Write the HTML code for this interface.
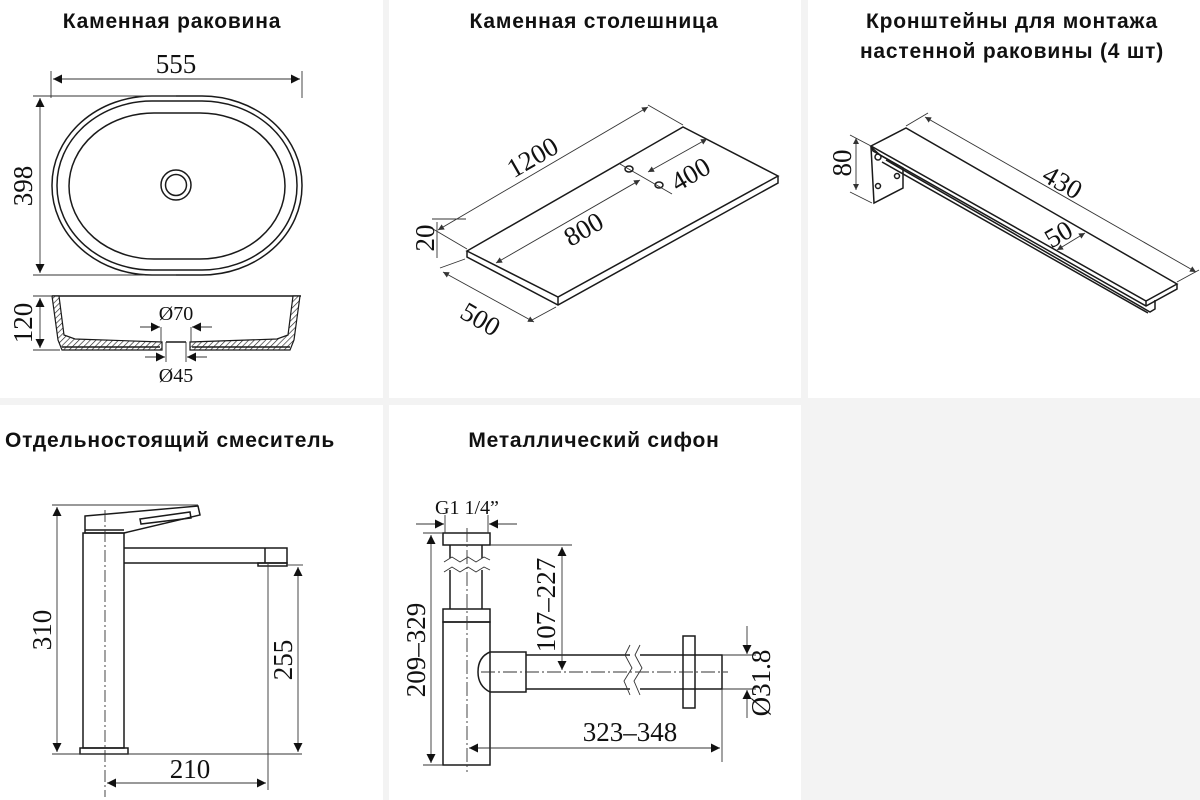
<!DOCTYPE html>
<html><head><meta charset="utf-8"><style>
html,body{margin:0;padding:0;background:#f3f3f3;}
svg{display:block}
.t{font-family:"Liberation Sans","DejaVu Sans",sans-serif;font-weight:bold;font-size:21px;letter-spacing:0.8px;fill:#111}
.d{font-family:"Liberation Serif","DejaVu Serif",serif;font-size:27px;fill:#111}
.ds{font-family:"Liberation Serif","DejaVu Serif",serif;font-size:20px;fill:#111}
.o{fill:none;stroke:#1a1a1a;stroke-width:1.5}
.dl{fill:none;stroke:#333;stroke-width:0.9}
</style></head><body>
<svg width="1200" height="800" viewBox="0 0 1200 800" xmlns="http://www.w3.org/2000/svg">
<defs>
<marker id="a" viewBox="0 0 10 10" refX="10" refY="5" markerWidth="13" markerHeight="9" orient="auto-start-reverse" markerUnits="userSpaceOnUse"><path d="M0,0L10,5L0,10z" fill="#111"/></marker>
<marker id="s" viewBox="0 0 10 10" refX="10" refY="5" markerWidth="8" markerHeight="6" orient="auto-start-reverse" markerUnits="userSpaceOnUse"><path d="M0,0L10,5L0,10z" fill="#333"/></marker>
<pattern id="h" width="4" height="4" patternUnits="userSpaceOnUse" patternTransform="rotate(45)"><rect width="4" height="4" fill="#fff"/><line x1="0" y1="0" x2="0" y2="4" stroke="#222" stroke-width="1.3"/></pattern>
</defs>
<rect x="0" y="0" width="383" height="398" fill="#fff"/>
<rect x="389" y="0" width="412" height="398" fill="#fff"/>
<rect x="808" y="0" width="392" height="398" fill="#fff"/>
<rect x="0" y="405" width="383" height="395" fill="#fff"/>
<rect x="389" y="405" width="412" height="395" fill="#fff"/>

<text class="t" x="172" y="28" text-anchor="middle">Каменная раковина</text>
<text class="t" x="594" y="28" text-anchor="middle">Каменная столешница</text>
<text class="t" x="1012" y="28" text-anchor="middle">Кронштейны для монтажа</text>
<text class="t" x="1012" y="58" text-anchor="middle">настенной раковины (4 шт)</text>
<text class="t" x="170" y="447" text-anchor="middle">Отдельностоящий смеситель</text>
<text class="t" x="594" y="447" text-anchor="middle">Металлический сифон</text>

<!-- basin top -->
<rect class="o" x="52" y="96" width="250" height="179" rx="100" ry="89"/>
<rect class="o" x="57" y="101" width="240" height="169" rx="95" ry="84"/>
<rect class="o" x="69" y="113" width="216" height="146" rx="85" ry="73"/>
<circle class="o" cx="176" cy="185" r="15"/>
<circle class="o" cx="176" cy="185" r="10.5"/>
<line class="dl" x1="51" y1="71" x2="51" y2="98"/><line class="dl" x1="302" y1="71" x2="302" y2="98"/>
<line class="dl" x1="53" y1="79" x2="300" y2="79" marker-start="url(#a)" marker-end="url(#a)"/>
<text class="d" x="176" y="73" text-anchor="middle">555</text>
<line class="dl" x1="33" y1="96" x2="176" y2="96"/><line class="dl" x1="33" y1="275" x2="176" y2="275"/>
<line class="dl" x1="40" y1="98" x2="40" y2="273" marker-start="url(#a)" marker-end="url(#a)"/>
<text class="d" transform="translate(32,186) rotate(-90)" text-anchor="middle">398</text>

<!-- basin side -->
<line class="o" x1="52" y1="296" x2="301" y2="296"/>
<polygon points="52,296 59,296 64,335 75,339 162,342 162,350 62,350 58,340" fill="url(#h)" stroke="#1a1a1a" stroke-width="1.2"/>
<polygon points="300,296 293,296 288,335 277,339 190,342 190,350 290,350 294,340" fill="url(#h)" stroke="#1a1a1a" stroke-width="1.2"/>
<line class="o" x1="166" y1="342" x2="186" y2="342"/>
<line class="o" x1="62" y1="347" x2="160" y2="347"/><line class="o" x1="192" y1="347" x2="290" y2="347"/>
<line class="dl" x1="33" y1="296" x2="52" y2="296"/><line class="dl" x1="33" y1="350" x2="60" y2="350"/>
<line class="dl" x1="40" y1="298" x2="40" y2="348" marker-start="url(#a)" marker-end="url(#a)"/>
<text class="d" transform="translate(32,323) rotate(-90)" text-anchor="middle">120</text>
<line class="dl" x1="161" y1="327" x2="161" y2="342"/><line class="dl" x1="191" y1="327" x2="191" y2="342"/>
<line class="dl" x1="140" y1="327" x2="160" y2="327" marker-end="url(#a)"/><line class="dl" x1="212" y1="327" x2="192" y2="327" marker-end="url(#a)"/>
<text class="ds" x="176" y="320" text-anchor="middle">Ø70</text>
<line class="dl" x1="166" y1="342" x2="166" y2="362"/><line class="dl" x1="186" y1="342" x2="186" y2="362"/>
<line class="dl" x1="145" y1="357" x2="165" y2="357" marker-end="url(#a)"/><line class="dl" x1="207" y1="357" x2="187" y2="357" marker-end="url(#a)"/>
<text class="ds" x="176" y="382" text-anchor="middle">Ø45</text>

<!-- countertop -->
<polygon class="o" points="467,251 683,127 778,176 558,297"/>
<polyline class="o" points="467,251 467,257 558,305 778,183 778,176"/>
<line class="o" x1="558" y1="297" x2="558" y2="305"/>
<ellipse class="o" cx="629" cy="169" rx="4" ry="3"/>
<ellipse class="o" cx="659" cy="185" rx="4" ry="3"/>
<line class="dl" x1="467" y1="249" x2="433" y2="229"/><line class="dl" x1="683" y1="125" x2="648" y2="105"/>
<line class="dl" x1="438" y1="230" x2="648" y2="107" marker-start="url(#s)" marker-end="url(#s)"/>
<text class="d" transform="translate(537,165) rotate(-30)" text-anchor="middle">1200</text>
<line class="dl" x1="496" y1="263" x2="640" y2="180" marker-start="url(#s)" marker-end="url(#s)"/>
<text class="d" transform="translate(588,237) rotate(-30)" text-anchor="middle">800</text>
<line class="dl" x1="620" y1="164" x2="672" y2="194"/>
<line class="dl" x1="648" y1="172" x2="707" y2="139" marker-start="url(#s)" marker-end="url(#s)"/>
<text class="d" transform="translate(695,182) rotate(-30)" text-anchor="middle">400</text>
<line class="dl" x1="432" y1="219" x2="466" y2="219"/>
<line class="dl" x1="437" y1="222" x2="437" y2="258"/>
<text class="d" transform="translate(434,238) rotate(-90)" text-anchor="middle">20</text>
<line class="dl" x1="465" y1="259" x2="440" y2="268"/><line class="dl" x1="556" y1="307" x2="532" y2="320"/>
<line class="dl" x1="443" y1="272" x2="534" y2="322" marker-start="url(#s)" marker-end="url(#s)"/>
<text class="d" transform="translate(476,327) rotate(30)" text-anchor="middle">500</text>

<!-- bracket -->
<polygon class="o" points="871,147 874,203 903,188 903,168 880,155"/>
<circle class="o" cx="878" cy="157" r="3"/><circle class="o" cx="878" cy="186" r="2.5"/><circle class="o" cx="897" cy="176" r="2.5"/>
<polygon class="o" points="871,146 906,128 1177,284 1146,301"/>
<polyline class="o" points="871,146 873,151 1146,306 1177,289 1177,284"/>
<line class="o" x1="1146" y1="301" x2="1146" y2="306"/>
<polyline class="o" points="886,160 1150,312 1155,309 1155,300"/>
<line class="o" x1="882" y1="162" x2="1148" y2="313"/>
<line class="dl" x1="906" y1="126" x2="928" y2="113"/><line class="dl" x1="1177" y1="282" x2="1199" y2="270"/>
<line class="dl" x1="925" y1="117" x2="1196" y2="272" marker-start="url(#s)" marker-end="url(#s)"/>
<text class="d" transform="translate(1058,190) rotate(30)" text-anchor="middle">430</text>
<line class="dl" x1="1057" y1="250" x2="1085" y2="233" marker-start="url(#s)" marker-end="url(#s)"/>
<text class="d" transform="translate(1063,242) rotate(-30)" text-anchor="middle">50</text>
<line class="dl" x1="850" y1="135" x2="871" y2="146"/><line class="dl" x1="850" y1="192" x2="872" y2="203"/>
<line class="dl" x1="856" y1="138" x2="856" y2="190" marker-start="url(#s)" marker-end="url(#s)"/>
<text class="d" transform="translate(851,163) rotate(-90)" text-anchor="middle">80</text>

<!-- faucet -->
<rect class="o" x="83" y="533" width="41" height="215"/>
<rect class="o" x="80" y="748" width="48" height="6"/>
<polygon class="o" points="85,516 198,506 200,515 124,533 85,533"/>
<polygon class="o" points="140,519 190,512 191,518 141,524" stroke-width="1.1"/>
<line class="o" x1="85" y1="530" x2="124" y2="530"/>
<polyline class="o" points="124,548 287,548 287,563 124,563"/>
<line class="o" x1="265" y1="548" x2="265" y2="563"/>
<rect class="o" x="258" y="563" width="29" height="3"/>
<line class="dl" x1="105" y1="510" x2="105" y2="797" stroke-dasharray="12,3,2,3"/>
<line class="dl" x1="52" y1="505" x2="198" y2="505"/><line class="dl" x1="52" y1="754" x2="302" y2="754"/>
<line class="dl" x1="57" y1="507" x2="57" y2="752" marker-start="url(#a)" marker-end="url(#a)"/>
<text class="d" transform="translate(51,630) rotate(-90)" text-anchor="middle">310</text>
<line class="dl" x1="287" y1="565" x2="303" y2="565"/>
<line class="dl" x1="298" y1="567" x2="298" y2="752" marker-start="url(#a)" marker-end="url(#a)"/>
<text class="d" transform="translate(292,660) rotate(-90)" text-anchor="middle">255</text>
<line class="dl" x1="268" y1="563" x2="268" y2="790"/>
<line class="dl" x1="107" y1="783" x2="266" y2="783" marker-start="url(#a)" marker-end="url(#a)"/>
<text class="d" x="190" y="778" text-anchor="middle">210</text>

<!-- siphon -->
<rect class="o" x="443" y="533" width="47" height="12"/>
<line class="o" x1="450" y1="545" x2="450" y2="558"/><line class="o" x1="482" y1="545" x2="482" y2="558"/>
<line class="o" x1="450" y1="570" x2="450" y2="609"/><line class="o" x1="482" y1="570" x2="482" y2="609"/>
<polyline class="dl" points="444,562 452,557 460,562 468,557 476,562 484,557 490,560"/>
<polyline class="dl" points="444,572 452,567 460,572 468,567 476,572 484,567 490,570"/>
<rect class="o" x="443" y="609" width="47" height="13"/>
<rect class="o" x="443" y="622" width="47" height="143"/>
<path class="o" d="M490,652 Q478,657 478,672 Q478,686 490,692 L526,692 L526,652 Z"/>
<polyline class="o" points="526,655 630,655"/><polyline class="o" points="526,689 630,689"/>
<polyline class="o" points="640,655 722,655 722,689 640,689"/>
<polyline class="dl" points="630,645 625,655 632,668 624,681 630,695"/>
<polyline class="dl" points="640,645 635,655 642,668 634,681 640,695"/>
<rect class="o" x="683" y="636" width="12" height="72"/>
<line class="dl" x1="467" y1="528" x2="467" y2="772" stroke-dasharray="14,3,2,3"/>
<line class="dl" x1="481" y1="672" x2="728" y2="672" stroke-dasharray="14,3,2,3"/>
<line class="dl" x1="445" y1="515" x2="445" y2="533"/><line class="dl" x1="488" y1="515" x2="488" y2="533"/>
<line class="dl" x1="416" y1="524" x2="444" y2="524" marker-end="url(#a)"/><line class="dl" x1="517" y1="524" x2="489" y2="524" marker-end="url(#a)"/>
<text class="ds" x="467" y="514" text-anchor="middle">G1 1/4”</text>
<line class="dl" x1="423" y1="533" x2="443" y2="533"/><line class="dl" x1="423" y1="765" x2="443" y2="765"/>
<line class="dl" x1="431" y1="535" x2="431" y2="763" marker-start="url(#a)" marker-end="url(#a)"/>
<text class="d" transform="translate(425,650) rotate(-90)" text-anchor="middle">209–329</text>
<line class="dl" x1="490" y1="545" x2="572" y2="545"/>
<line class="dl" x1="562" y1="547" x2="562" y2="670" marker-start="url(#a)" marker-end="url(#a)"/>
<text class="d" transform="translate(555,605) rotate(-90)" text-anchor="middle">107–227</text>
<line class="dl" x1="722" y1="655" x2="756" y2="655"/><line class="dl" x1="722" y1="689" x2="756" y2="689"/>
<line class="dl" x1="747" y1="626" x2="747" y2="654" marker-end="url(#a)"/><line class="dl" x1="747" y1="718" x2="747" y2="690" marker-end="url(#a)"/>
<text class="d" transform="translate(770,683) rotate(-90)" text-anchor="middle">Ø31.8</text>
<line class="dl" x1="722" y1="689" x2="722" y2="762"/>
<line class="dl" x1="469" y1="748" x2="720" y2="748" marker-start="url(#a)" marker-end="url(#a)"/>
<text class="d" x="630" y="741" text-anchor="middle">323–348</text>
</svg>
</body></html>
